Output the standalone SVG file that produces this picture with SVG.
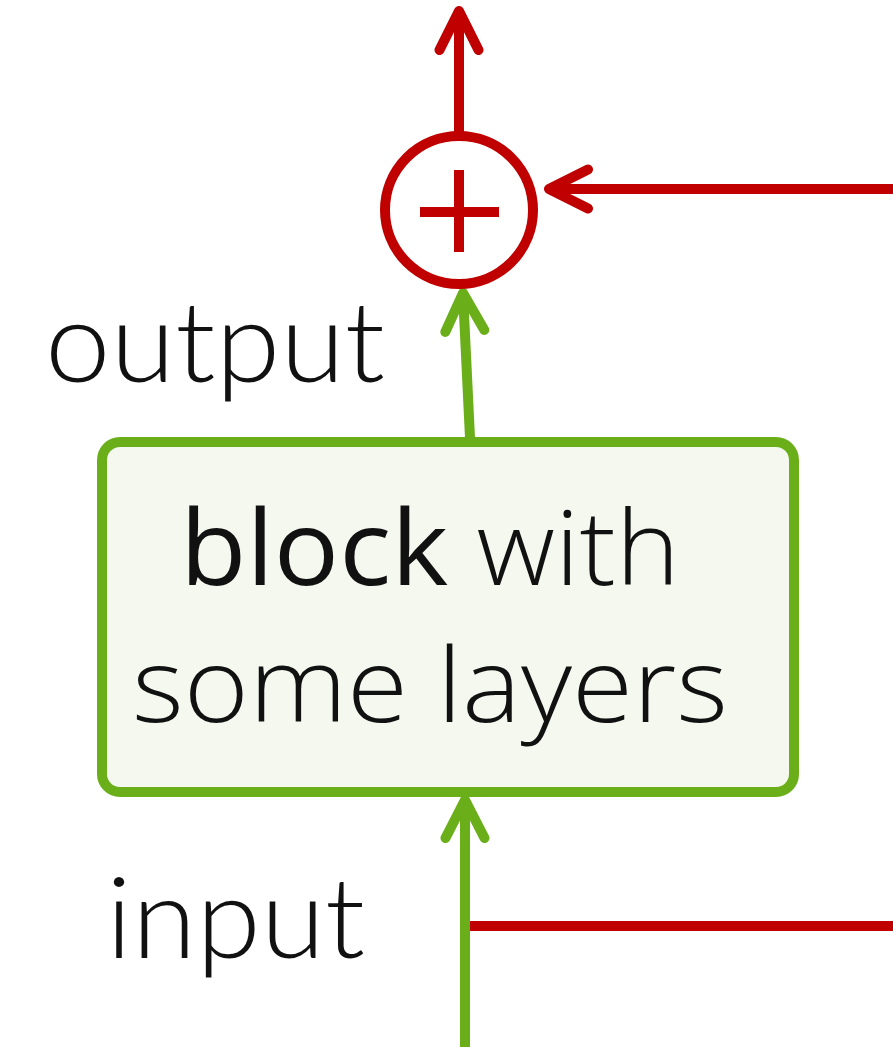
<svg xmlns="http://www.w3.org/2000/svg" width="893" height="1047" viewBox="0 0 893 1047">
<style>
.red{stroke:#c00000;stroke-width:10;fill:none}
.green{stroke:#6aaf1a;stroke-width:10;fill:none}
.lbl{font-family:Lato,"Open Sans",sans-serif;font-weight:300;font-size:112px;fill:#111}
.box{font-family:"Open Sans","Noto Sans",sans-serif;font-weight:300;font-size:104px;fill:#111}
</style>
<defs>
<marker id="ahR" viewBox="-45 -25 50 50" markerWidth="50" markerHeight="50" refX="0" refY="0" orient="auto" markerUnits="userSpaceOnUse">
<path d="M-39,-19.5 L0,0 L-39,19.5" fill="none" stroke="#c00000" stroke-width="10" stroke-linecap="round" stroke-linejoin="round"/>
</marker>
<marker id="ahG" viewBox="-45 -25 50 50" markerWidth="50" markerHeight="50" refX="0" refY="0" orient="auto" markerUnits="userSpaceOnUse">
<path d="M-38,-19.5 L0,0 L-38,19.5" fill="none" stroke="#6aaf1a" stroke-width="10" stroke-linecap="round" stroke-linejoin="round"/>
</marker>
</defs>
<g id="connectors">
<line class="red" x1="459" y1="133" x2="459" y2="11" marker-end="url(#ahR)"/>
<line class="red" x1="893" y1="189" x2="549" y2="189" marker-end="url(#ahR)"/>
<line class="red" x1="469" y1="926" x2="893" y2="926"/>
<line class="green" x1="470" y1="438" x2="463" y2="293" marker-end="url(#ahG)"/>
<line class="green" x1="465" y1="1047" x2="465" y2="800" marker-end="url(#ahG)"/>
</g>
<g id="sum">
<circle class="red" cx="459" cy="210" r="74" stroke-width="9"/>
<path class="red" d="M420,212 H499 M459,170 V252" stroke-width="7"/>
</g>
<g id="block">
<rect x="102" y="442" width="692" height="350" rx="18" fill="#f4f8ef" stroke="#6aaf1a" stroke-width="10"/>
<text class="box" x="180" y="585" textLength="500" lengthAdjust="spacingAndGlyphs"><tspan font-weight="500">block</tspan> with</text>
<text class="box" x="132" y="722" textLength="596" lengthAdjust="spacingAndGlyphs">some layers</text>
</g>
<g id="output-label">
<text class="lbl" x="45" y="382" textLength="340" lengthAdjust="spacingAndGlyphs">output</text>
</g>
<g id="input-label">
<text class="lbl" x="106" y="958" textLength="259" lengthAdjust="spacingAndGlyphs">input</text>
</g>
</svg>
